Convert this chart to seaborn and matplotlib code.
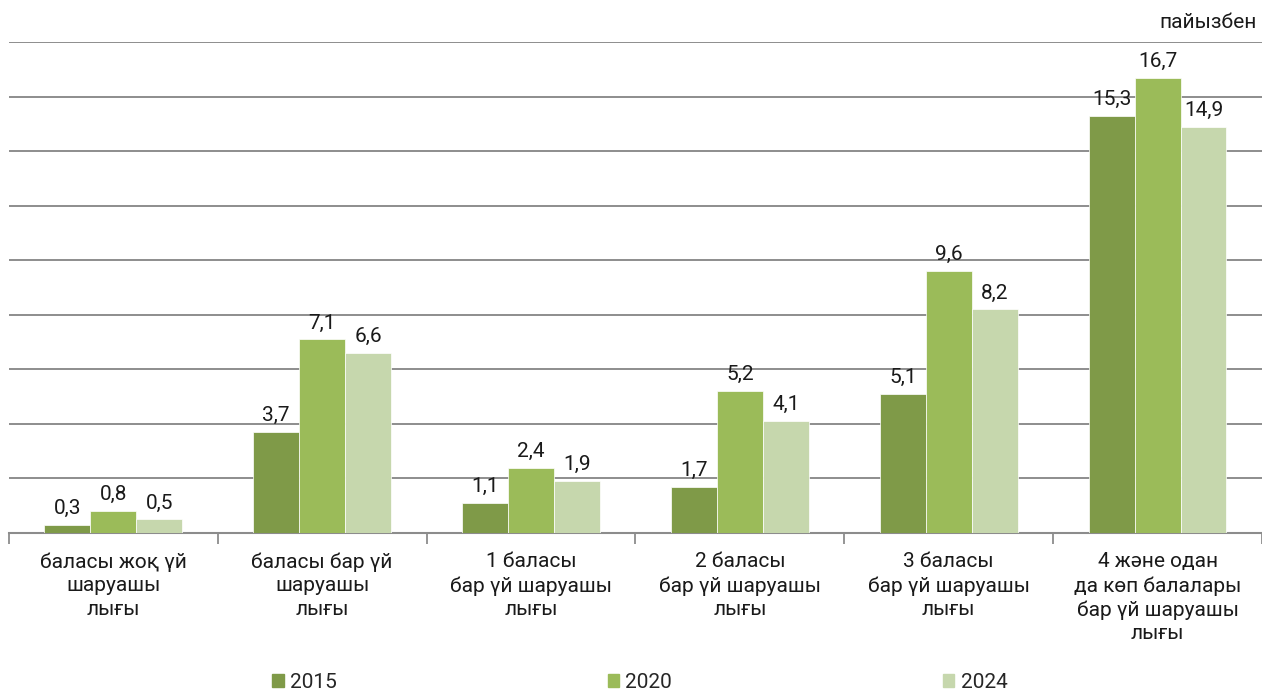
import pandas as pd
import matplotlib.pyplot as plt
import seaborn as sns
from matplotlib.patches import Patch

# data (per cent)
categories = ["баласы жоқ үй\nшаруашы\nлығы",
              "баласы бар үй\nшаруашы\nлығы",
              "1 баласы\nбар үй шаруашы\nлығы",
              "2 баласы\nбар үй шаруашы\nлығы",
              "3 баласы\nбар үй шаруашы\nлығы",
              "4 және одан\nда көп балалары\nбар үй шаруашы\nлығы"]
years = ["2015", "2020", "2024"]
v2015 = [0.3, 3.7, 1.1, 1.7, 5.1, 15.3]
v2020 = [0.8, 7.1, 2.4, 5.2, 9.6, 16.7]
v2024 = [0.5, 6.6, 1.9, 4.1, 8.2, 14.9]
colors = ["#7f9a48", "#9bbb59", "#c6d7ad"]

rows = []
for yr, vals in zip(years, [v2015, v2020, v2024]):
    for c, v in zip(categories, vals):
        rows.append({"cat": c, "year": yr, "val": v})
df = pd.DataFrame(rows)

sns.set_style("white")
plt.rcParams['font.family'] = ['Roboto', 'DejaVu Sans']

fig = plt.figure(figsize=(12.62, 6.9), dpi=100)
ax = fig.add_axes([0.007, 0.2275, 0.993, 0.7115])

sns.barplot(data=df, x="cat", y="val", hue="year", palette=colors,
            width=0.66, gap=0, ax=ax, legend=False, saturation=1, zorder=3,
            linewidth=0.5, edgecolor="white")

for cont in ax.containers:
    ax.bar_label(cont, labels=[f"{v:.1f}".replace(".", ",") for v in cont.datavalues],
                 padding=5, fontsize=15, color="#1a1a1a")

ax.set_ylim(0, 18)
ax.set_xlim(-0.5, 5.5)
ax.set_yticks(range(0, 19, 2))
ax.yaxis.grid(True, color="#858585", linewidth=1.3, zorder=0)
ax.tick_params(axis="y", left=False, labelleft=False)
for s in ["top", "right", "left"]:
    ax.spines[s].set_visible(False)
ax.spines["bottom"].set_color("#8c8c8c")
ax.spines["bottom"].set_linewidth(1.5)

ax.set_xticks([i - 0.5 for i in range(7)], minor=True)
ax.tick_params(axis="x", which="minor", length=8, width=1.3, color="#8c8c8c", bottom=True)
ax.tick_params(axis="x", which="major", length=0, pad=14, labelsize=15, labelcolor="#1a1a1a")
for lbl in ax.get_xticklabels():
    lbl.set_linespacing(1.3)
ax.set_xlabel("")
ax.set_ylabel("")

fig.text(0.996, 0.968, "пайызбен", ha="right", va="center", fontsize=15, color="#1a1a1a")

handles = [Patch(color=c, label=y) for c, y in zip(colors, years)]
fig.legend(handles=handles, loc="lower center", bbox_to_anchor=(0.507, -0.03), ncol=3,
           frameon=False, fontsize=15, handlelength=0.55, handleheight=0.55,
           handletextpad=0.3, columnspacing=13.0)

fig.savefig("out.png", dpi=100)
